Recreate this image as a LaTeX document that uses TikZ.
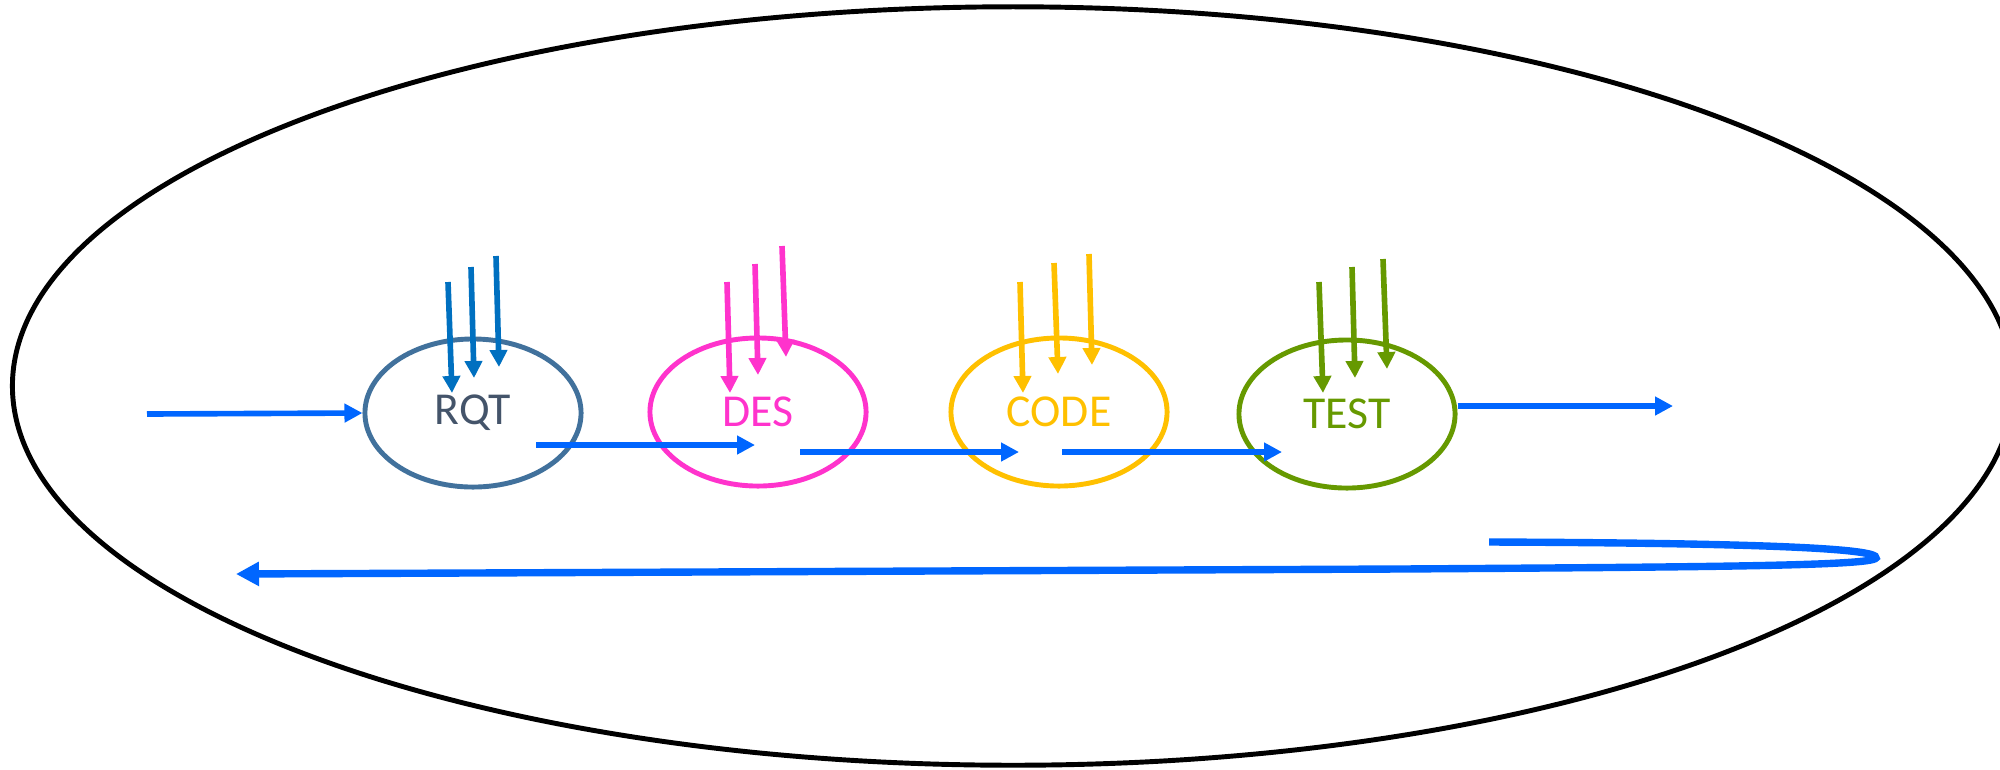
\documentclass[tikz,border=0pt]{standalone}
\usepackage{fontspec}
\setmainfont{Carlito}
\usetikzlibrary{shapes.geometric,arrows.meta}

\definecolor{rqtblue}{HTML}{41719C}
\definecolor{rqttext}{HTML}{44546A}
\definecolor{rqtin}{HTML}{0070C0}
\definecolor{despink}{HTML}{FF33CC}
\definecolor{codeyellow}{HTML}{FFC000}
\definecolor{testgreen}{HTML}{669900}
\definecolor{flowblue}{HTML}{0066FF}

\tikzset{
  phase/.style={draw, ellipse, line width=1.4pt, minimum width=2.16cm,
    minimum height=1.48cm, inner sep=0pt, font=\fontsize{13}{15}\selectfont},
  flow/.style={flowblue, line width=1.6pt, -{Triangle[length=0.18cm, width=0.18cm]}},
  feed/.style={line width=1.6pt, -{Triangle[length=0.17cm, width=0.17cm]}}
}

\begin{document}
\begin{tikzpicture}[x=0.01cm, y=-0.01cm]
      \useasboundingbox (0,0) rectangle (2000,769);
      \clip (0,0) rectangle (2000,769);
      \node[draw, ellipse, line width=1.4pt, minimum width=20cm, minimum height=7.58cm] (life) at (1013,386) {};
      \node[phase, rqtblue, text=rqttext] (rqt) at (473,413) {RQT};
      \node[phase, despink] (des) at (758,412) {DES};
      \node[phase, codeyellow] (code) at (1059,412) {CODE};
      \node[phase, testgreen] (test) at (1347,414) {TEST};
      \coordinate (entry) at (147,414);
      \coordinate (exit) at (1673,406);
      \coordinate (loopstart) at (1489,542);
      \coordinate (bend) at (1876,558);
      \coordinate (back) at (1400,569);
      \coordinate (restart) at (236,574);
      \draw[feed, rqtin] ([shift={(-25,-131)}]rqt.center) -- ([shift={(-21,-20)}]rqt.center);
      \draw[feed, rqtin] ([shift={(-2,-146)}]rqt.center) -- ([shift={(1,-35)}]rqt.center);
      \draw[feed, rqtin] ([shift={(23,-157)}]rqt.center) -- ([shift={(26,-46)}]rqt.center);
      \draw[feed, despink] ([shift={(-31,-130)}]des.center) -- ([shift={(-28,-19)}]des.center);
      \draw[feed, despink] ([shift={(-3,-148)}]des.center) -- ([shift={(0,-37)}]des.center);
      \draw[feed, despink] ([shift={(24,-166)}]des.center) -- ([shift={(28,-55)}]des.center);
      \draw[feed, codeyellow] ([shift={(-39,-130)}]code.center) -- ([shift={(-36,-19)}]code.center);
      \draw[feed, codeyellow] ([shift={(-5,-149)}]code.center) -- ([shift={(-1,-38)}]code.center);
      \draw[feed, codeyellow] ([shift={(30,-158)}]code.center) -- ([shift={(33,-47)}]code.center);
      \draw[feed, testgreen] ([shift={(-28,-132)}]test.center) -- ([shift={(-24,-21)}]test.center);
      \draw[feed, testgreen] ([shift={(5,-147)}]test.center) -- ([shift={(8,-36)}]test.center);
      \draw[feed, testgreen] ([shift={(36,-155)}]test.center) -- ([shift={(40,-45)}]test.center);
      \draw[flow] (entry) -- (rqt.west);
      \draw[flow] ([shift={(63,32)}]rqt.center) -- ([shift={(-3,33)}]des.center);
      \draw[flow] ([shift={(42,40)}]des.center) -- ([shift={(-40,40)}]code.center);
      \draw[flow] ([shift={(3,40)}]code.center) -- ([shift={(-65,38)}]test.center);
      \draw[flow] ([shift={(0,-8)}]test.east) -- (exit);
      \draw[flowblue, line width=2.1pt, -{Triangle[length=0.23cm, width=0.23cm]}]
        (loopstart) .. controls (1750,543) and (1880,548) .. (bend)
        .. controls (1872,566) and (1700,567) .. (back) -- (restart);
    \end{tikzpicture}
\end{document}
